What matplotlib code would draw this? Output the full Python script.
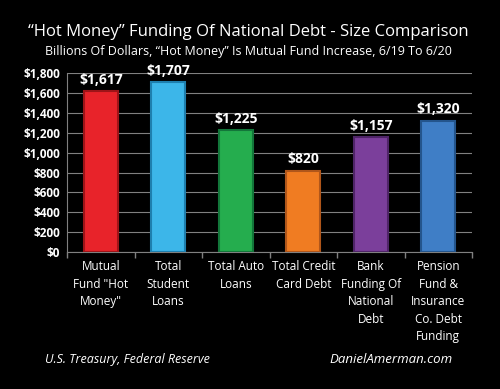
import matplotlib.pyplot as plt
import numpy as np

categories = ['Mutual\nFund "Hot\nMoney"', 'Total\nStudent\nLoans', 'Total Auto\nLoans',
              'Total Credit\nCard Debt', 'Bank\nFunding Of\nNational\nDebt',
              'Pension\nFund &\nInsurance\nCo. Debt\nFunding']
values = [1617, 1707, 1225, 820, 1157, 1320]
colors = ['#E8232A', '#3CB6E9', '#25AD4E', '#F07C22', '#7B3F9B', '#3F7EC6']
edges = ['#9E1418', '#1E7FAE', '#13763A', '#B0561A', '#4F2568', '#24558C']
yticks = [0, 200, 400, 600, 800, 1000, 1200, 1400, 1600, 1800]

plt.rcParams['font.family'] = ['Open Sans', 'DejaVu Sans']

fig = plt.figure(figsize=(5, 3.89), dpi=100, facecolor='black')
ax = fig.add_axes([0.134, 0.352, 0.81, 0.46], facecolor='black')

x = np.arange(len(values))
ax.bar(x, values, width=0.5, color=colors, edgecolor=edges, linewidth=1.5, zorder=3)
for xi, v in zip(x, values):
    ax.text(xi, v + 45, f'${v:,}', ha='center', va='bottom', color='white',
            fontsize=10, fontweight='bold')

ax.set_xlim(-0.5, len(values) - 0.5)
ax.set_ylim(0, 1800)
ax.set_yticks(yticks)
ax.set_yticklabels([f'${t:,}' for t in yticks], color='white', fontsize=8.5, fontweight='bold')
ax.yaxis.grid(True, color='#808080', linewidth=0.8, zorder=0)
ax.tick_params(axis='y', length=0, pad=5)

ax.set_xticks(x)
ax.set_xticklabels(categories, color='white', fontsize=8.5, linespacing=1.45)
ax.set_xticks(np.arange(len(values) + 1) - 0.5, minor=True)
ax.tick_params(axis='x', which='major', length=0, pad=6)
ax.tick_params(axis='x', which='minor', length=4, color='#808080', width=1)

for s in ['top', 'right']:
    ax.spines[s].set_visible(False)
ax.spines['left'].set_color('#808080')
ax.spines['bottom'].set_color('#808080')

fig.text(0.497, 0.918, '\u201cHot Money\u201d Funding Of National Debt - Size Comparison',
         ha='center', va='center', color='white', fontsize=12)
fig.text(0.497, 0.868, 'Billions Of Dollars, \u201cHot Money\u201d Is Mutual Fund Increase, 6/19 To 6/20',
         ha='center', va='center', color='white', fontsize=9)
fig.text(0.09, 0.077, 'U.S. Treasury, Federal Reserve', ha='left', va='center',
         color='white', fontsize=9, style='italic')
fig.text(0.905, 0.077, 'DanielAmerman.com', ha='right', va='center',
         color='white', fontsize=9.5, style='italic')

fig.savefig('out.png', dpi=100, facecolor='black')
